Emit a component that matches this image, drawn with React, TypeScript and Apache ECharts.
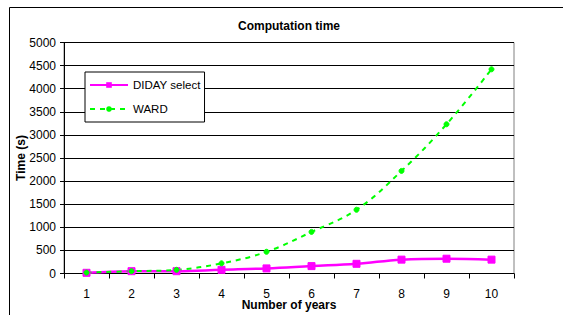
import React, { useEffect, useRef } from "react";
import * as echarts from "echarts";

const years = ["1", "2", "3", "4", "5", "6", "7", "8", "9", "10"];
const didaySelect = [15, 50, 50, 80, 110, 160, 210, 300, 320, 300];
const ward = [20, 50, 80, 220, 470, 900, 1380, 2220, 3230, 4420];
const FONT = "'Liberation Sans', Arial, sans-serif";

export default function App() {
  const ref = useRef<HTMLDivElement>(null);
  useEffect(() => {
    if (!ref.current) return;
    const chart = echarts.init(ref.current, undefined, { renderer: "svg" });
    chart.setOption({
      animation: false,
      backgroundColor: "#ffffff",
      textStyle: { fontFamily: FONT },
      title: {
        text: "Computation time",
        left: 289,
        textAlign: "center",
        top: 20,
        padding: 0,
        textStyle: { fontFamily: FONT, fontSize: 12, fontWeight: "bold", color: "#000" },
      },
      graphic: [
        {
          type: "rect",
          shape: { x: 9.5, y: 7.5, width: 600, height: 400 },
          style: { fill: "none", stroke: "#000", lineWidth: 1 },
          silent: true,
        },
      ],
      legend: {
        orient: "vertical",
        left: 85,
        top: 72,
        padding: [6, 4, 6, 4],
        itemWidth: 38,
        itemHeight: 7,
        itemGap: 10,
        borderColor: "#000",
        borderWidth: 1,
        backgroundColor: "#fff",
        textStyle: { fontFamily: FONT, fontSize: 11.5, color: "#000", lineHeight: 14 },
        data: ["DIDAY select", "WARD"],
      },
      grid: {
        left: 64,
        right: 49,
        top: 42.5,
        bottom: 41.5,
        containLabel: false,
        outerBoundsMode: "none",
        show: true,
        borderColor: "#808080",
        borderWidth: 1,
        backgroundColor: "#fff",
      },
      xAxis: {
        type: "category",
        data: years,
        boundaryGap: true,
        name: "Number of years",
        nameLocation: "middle",
        nameGap: 25,
        nameMoveOverlap: false,
        nameTextStyle: { fontFamily: FONT, fontSize: 12, fontWeight: "bold", color: "#000", lineHeight: 12 },
        axisLine: { show: true, lineStyle: { color: "#000", width: 1 } },
        axisTick: { show: true, length: 5, alignWithLabel: false, lineStyle: { color: "#000" } },
        axisLabel: { fontFamily: FONT, fontSize: 12, color: "#000", margin: 14, interval: 0, lineHeight: 12 },
        splitLine: { show: false },
      },
      yAxis: {
        type: "value",
        min: 0,
        max: 5000,
        interval: 500,
        name: "Time (s)",
        nameLocation: "middle",
        nameGap: 37,
        nameMoveOverlap: false,
        nameTextStyle: { fontFamily: FONT, fontSize: 12, fontWeight: "bold", color: "#000" },
        axisLine: { show: true, lineStyle: { color: "#000", width: 1 } },
        axisTick: { show: true, length: 4, lineStyle: { color: "#000" } },
        axisLabel: {
          fontFamily: FONT,
          fontSize: 12,
          color: "#000",
          margin: 8,
          formatter: (v: number) => String(v),
        },
        splitLine: { show: true, lineStyle: { color: "#000", width: 1 } },
      },
      series: [
        {
          name: "DIDAY select",
          type: "line",
          data: didaySelect,
          smooth: 0.4,
          symbol: "rect",
          symbolSize: 7,
          showAllSymbol: true,
          lineStyle: { color: "#ff00ff", width: 2.5 },
          itemStyle: { color: "#ff00ff", borderColor: "#ff00ff" },
        },
        {
          name: "WARD",
          type: "line",
          data: ward,
          smooth: 0.4,
          symbol: "circle",
          symbolSize: 5,
          showAllSymbol: true,
          lineStyle: { color: "#00ff00", width: 2, type: [5, 5] },
          itemStyle: { color: "#00ff00", borderColor: "#00ff00" },
        },
      ],
    });
    return () => chart.dispose();
  }, []);
  return (
    <div
      ref={ref}
      style={{ position: "fixed", left: 0, top: 0, width: 563, height: 315 }}
    />
  );
}
